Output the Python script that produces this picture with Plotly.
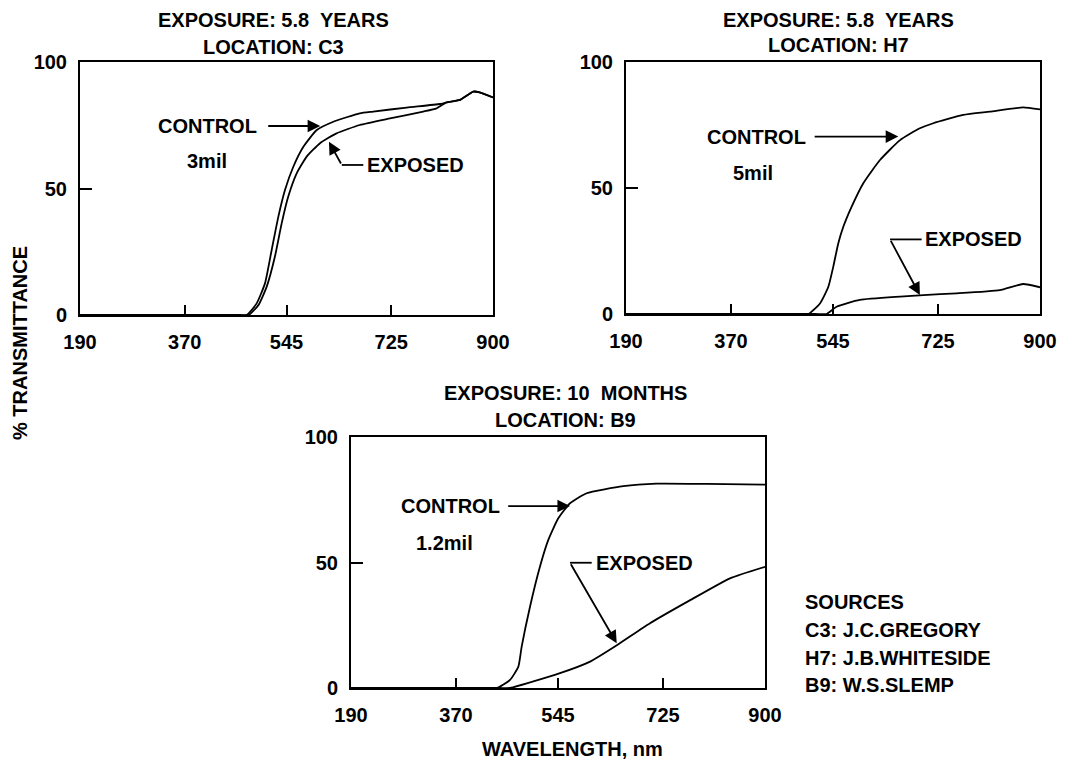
import plotly.graph_objects as go

# page body has an 8px margin, so the figure fills the rest of the window
OFF = 8
W, H = 1065 - OFF, 763 - OFF

# ---------------- data ----------------
x_ticks = [190, 370, 545, 725, 900]
y_ticks = [0, 50, 100]

# Panel 1: C3, 5.8 years
c3_control_nm = [190, 420, 460, 476.5, 493.7, 508, 519.5, 531, 542.4, 556.7, 574, 597, 625.5, 671, 694, 751.6, 809, 820, 843, 866, 877, 900]
c3_control_t = [0, 0, 0, 0, 4.6, 12.5, 25.7, 38.9, 49.4, 58.6, 66.5, 73.1, 76.4, 79.7, 80.4, 82, 83.4, 84, 85, 88.3, 88, 86]
c3_exposed_nm = [190, 420, 465, 480, 497, 511, 525, 536.7, 548, 562.5, 579.7, 602.6, 631, 671, 723, 780, 803, 820, 843, 866, 877, 900]
c3_exposed_t = [0, 0, 0, 0, 4, 11.2, 23, 36.2, 46.8, 56, 62.6, 67.9, 71.8, 75.1, 77.7, 80.4, 81.7, 84, 85, 88.3, 88, 86]

# Panel 2: H7, 5.8 years
h7_control_nm = [190, 440, 485, 503, 522.7, 537, 545.5, 554, 562.7, 577, 597, 625.6, 660, 694, 717, 768.5, 814, 871, 900]
h7_control_t = [0, 0, 0, 0, 4.2, 10.8, 18.8, 28, 34.6, 42.6, 51.9, 61.1, 69, 73.7, 75.7, 79, 80.3, 82, 81.2]
h7_exposed_nm = [190, 460, 515, 534, 551, 591, 660, 700, 757, 831, 871, 900]
h7_exposed_t = [0, 0, 0, 0, 2.9, 5.6, 6.9, 7.5, 8.2, 9.5, 11.9, 10.6]

# Panel 3: B9, 10 months
b9_control_nm = [190, 380, 425, 440, 462.7, 477, 482.7, 497, 514, 528.4, 545.5, 565.6, 594, 657, 714, 800, 900]
b9_control_t = [0, 0, 0, 0, 3.2, 8.5, 16.5, 32.4, 48.3, 59, 67.6, 73.6, 77.6, 80.4, 81.4, 81.3, 81]
b9_exposed_nm = [190, 400, 445, 462.7, 548.4, 600, 645.7, 702.8, 771, 840, 900]
b9_exposed_t = [0, 0, 0, 0, 5.9, 10.5, 17, 25.8, 34.9, 43.7, 48.3]

titles = ["EXPOSURE: 5.8  YEARS<br>LOCATION: C3",
          "EXPOSURE: 5.8  YEARS<br>LOCATION: H7",
          "EXPOSURE: 10  MONTHS<br>LOCATION: B9"]
thickness = ["3mil", "5mil", "1.2mil"]
sources = ["SOURCES", "C3: J.C.GREGORY", "H7: J.B.WHITESIDE", "B9: W.S.SLEMP"]

# ---------------- layout helpers (window pixels -> paper) ----------------
def px_x(p):
    return (p - OFF) / W

def px_y(p):
    return 1 - (p - OFF) / H

FONT = "Liberation Sans, Arial, sans-serif"
FS = 20

panels = [
    dict(xd=[80, 493], yd=[62, 315]),
    dict(xd=[626, 1040], yd=[62, 314]),
    dict(xd=[351, 765], yd=[437, 688]),
]

fig = go.Figure()

series = [
    (c3_control_nm, c3_control_t, c3_exposed_nm, c3_exposed_t),
    (h7_control_nm, h7_control_t, h7_exposed_nm, h7_exposed_t),
    (b9_control_nm, b9_control_t, b9_exposed_nm, b9_exposed_t),
]

layout_axes = {}
for i, (p, s) in enumerate(zip(panels, series)):
    n = "" if i == 0 else str(i + 1)
    xa, ya = "x" + n, "y" + n
    for xs, ys in [(s[0], s[1]), (s[2], s[3])]:
        fig.add_trace(go.Scatter(x=xs, y=ys, mode="lines", xaxis=xa, yaxis=ya,
                                 line=dict(color="black", width=1.8, shape="spline", smoothing=0.5),
                                 showlegend=False, hoverinfo="skip"))
    common = dict(showgrid=False, zeroline=False, showline=True, linecolor="black",
                  linewidth=2, mirror=True, ticks="inside", tickcolor="black",
                  tickwidth=1.8, fixedrange=True, automargin=False,
                  tickfont=dict(family=FONT, size=FS, color="black", weight="bold"))
    layout_axes["xaxis" + n] = dict(common, domain=[px_x(p["xd"][0]), px_x(p["xd"][1])],
                                    range=[190, 900], tickvals=x_ticks,
                                    ticktext=[str(v) for v in x_ticks], ticklen=10,
                                    ticklabelstandoff=8, anchor=ya)
    layout_axes["yaxis" + n] = dict(common, domain=[px_y(p["yd"][1]), px_y(p["yd"][0])],
                                    range=[0, 100], tickvals=y_ticks,
                                    ticktext=[str(v) for v in y_ticks], ticklen=12,
                                    ticklabelstandoff=7, anchor=xa)

fig.update_layout(**layout_axes)

ann = []
shapes = []

def txt(text, x, y, xref="paper", yref="paper", xanchor="center", yanchor="middle", angle=0, align="center"):
    ann.append(dict(text=text, x=x, y=y, xref=xref, yref=yref, xanchor=xanchor,
                    yanchor=yanchor, showarrow=False, textangle=angle, align=align,
                    font=dict(family=FONT, size=FS, color="black", weight="bold")))

def arrow(xh, yh, xt, yt, n):
    xa, ya = "x" + n, "y" + n
    ann.append(dict(text="", x=xh, y=yh, ax=xt, ay=yt, xref=xa, yref=ya, axref=xa, ayref=ya,
                    showarrow=True, arrowhead=2, arrowsize=1.4, arrowwidth=1.8,
                    arrowcolor="black", standoff=0))

def seg(x0, y0, x1, y1, n):
    shapes.append(dict(type="line", x0=x0, y0=y0, x1=x1, y1=y1, xref="x" + n, yref="y" + n,
                       line=dict(color="black", width=1.8)))

# titles
title_centers = [(273, 20, 47), (838, 20, 45), (565, 393, 420)]
for t, (cx, y1, y2) in zip(titles, title_centers):
    l1, l2 = t.split("<br>")
    txt(l1, px_x(cx), px_y(y1))
    txt(l2, px_x(cx), px_y(y2))

# Panel 1 annotations
txt("CONTROL", 410, 74.7, xref="x", yref="y")
arrow(603, 74.7, 511, 74.7, "")
txt(thickness[0], 408, 60.9, xref="x", yref="y")
txt("EXPOSED", 680, 59.3, xref="x", yref="y", xanchor="left")
seg(677, 59.3, 640, 59.3, "")
arrow(618, 68.5, 640, 59.3, "")

# Panel 2 annotations
txt("CONTROL", 414, 70.4, xref="x2", yref="y2")
arrow(657, 70.4, 511, 70.4, "2")
txt(thickness[1], 408, 55.8, xref="x2", yref="y2")
txt("EXPOSED", 700, 29.6, xref="x2", yref="y2", xanchor="left")
seg(697, 29.6, 642.8, 29.6, "2")
arrow(694, 7.5, 642.8, 29.6, "2")

# Panel 3 annotations
txt("CONTROL", 361, 72.5, xref="x3", yref="y3")
arrow(565.6, 72.5, 457, 72.5, "3")
txt(thickness[2], 351, 57.6, xref="x3", yref="y3")
txt("EXPOSED", 606, 49.9, xref="x3", yref="y3", xanchor="left")
seg(602.8, 49.9, 565.6, 49.9, "3")
arrow(645.7, 17.8, 565.6, 49.9, "3")

# axis titles
txt("% TRANSMITTANCE", px_x(20), px_y(343), angle=-90)
txt("WAVELENGTH, nm", px_x(572), px_y(749))

# sources
for s, yy in zip(sources, [602, 630, 658, 685]):
    txt(s, px_x(803), px_y(yy), xanchor="left")

fig.update_layout(width=W, height=H, margin=dict(l=0, r=0, t=0, b=0, autoexpand=False),
                  paper_bgcolor="white", plot_bgcolor="white",
                  annotations=ann, shapes=shapes, showlegend=False)

fig.write_html("out.html")
